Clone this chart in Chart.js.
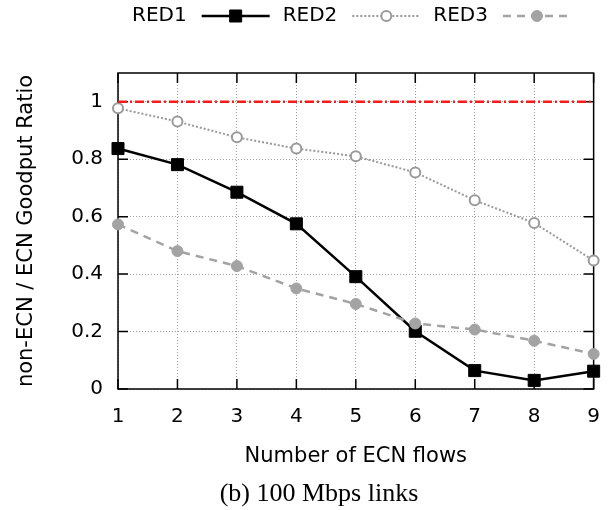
<!DOCTYPE html>
<html><head><meta charset="utf-8">
<script src="https://cdn.jsdelivr.net/npm/chart.js@4.4.0/dist/chart.umd.min.js"></script>
<style>
html,body{margin:0;padding:0;background:#fff;}
#wrap{position:relative;width:616px;height:510px;overflow:hidden;}
#c{position:absolute;left:0;top:0;}
#cap{position:absolute;left:11px;width:616px;top:480px;text-align:center;font-family:"Liberation Serif",serif;font-size:26px;line-height:26px;color:#000;white-space:pre;}
</style></head><body>
<div id="wrap"><canvas id="c" width="616" height="510"></canvas><div id="cap">(b) 100 Mbps links</div></div>
<script>
// ---- data ----
const flows = ['1','2','3','4','5','6','7','8','9'];
const red1 = [0.837, 0.781, 0.685, 0.575, 0.391, 0.201, 0.064, 0.030, 0.062];
const red2 = [0.977, 0.931, 0.876, 0.837, 0.810, 0.754, 0.657, 0.578, 0.447];
const red3 = [0.573, 0.480, 0.428, 0.350, 0.296, 0.228, 0.207, 0.168, 0.122];
const parity = [1, 1, 1, 1, 1, 1, 1, 1, 1];
const yTickValues = [0, 0.2, 0.4, 0.6, 0.8, 1];
const seriesNames = ['RED1', 'RED2', 'RED3'];
const xTitle = 'Number of ECN flows';
const yTitle = 'non-ECN / ECN Goodput Ratio';

const FONT = "'DejaVu Sans', sans-serif";

const framePlugin = {
  id: 'frame',
  beforeDatasetsDraw(chart) {
    const {ctx, chartArea: a, scales: {x, y}} = chart;
    ctx.save();
    ctx.strokeStyle = '#000';
    ctx.lineWidth = 1.5;
    ctx.setLineDash([]);
    ctx.beginPath();
    const L = 10;
    x.ticks.forEach((t, i) => {
      const px = x.getPixelForTick(i);
      ctx.moveTo(px, a.bottom); ctx.lineTo(px, a.bottom - L);
      ctx.moveTo(px, a.top); ctx.lineTo(px, a.top + L);
    });
    y.ticks.forEach((t) => {
      const py = y.getPixelForValue(t.value);
      ctx.moveTo(a.left, py); ctx.lineTo(a.left + L, py);
      ctx.moveTo(a.right, py); ctx.lineTo(a.right - L, py);
    });
    ctx.stroke();
    ctx.strokeRect(a.left, a.top, a.right - a.left, a.bottom - a.top);
    ctx.restore();
  }
};

const legendPlugin = {
  id: 'gnuLegend',
  afterDraw(chart) {
    const ctx = chart.ctx;
    ctx.save();
    ctx.font = '20px ' + FONT;
    ctx.textBaseline = 'middle';
    ctx.textAlign = 'left';
    let xPos = 132;
    const yPos = 16;
    seriesNames.forEach((name) => {
      const ds = chart.data.datasets.find(d => d.label === name);
      if (!ds) return;
      ctx.fillStyle = '#000';
      ctx.fillText(ds.label, xPos, yPos);
      xPos += ctx.measureText(ds.label).width + 15;
      const len = 68;
      ctx.strokeStyle = ds.borderColor;
      ctx.lineWidth = ds.borderWidth;
      ctx.setLineDash(ds.borderDash || []);
      ctx.beginPath();
      ctx.moveTo(xPos, yPos); ctx.lineTo(xPos + len, yPos);
      ctx.stroke();
      ctx.setLineDash([]);
      ctx.fillStyle = ds.pointBackgroundColor;
      ctx.strokeStyle = ds.pointBorderColor;
      ctx.lineWidth = ds.pointBorderWidth;
      Chart.helpers.drawPoint(ctx, {pointStyle: ds.pointStyle, radius: ds.pointRadius, rotation: 0, borderWidth: ds.pointBorderWidth}, xPos + len / 2, yPos);
      xPos += len + 13;
    });
    ctx.restore();
  }
};

new Chart(document.getElementById('c'), {
  type: 'line',
  data: {
    labels: flows,
    datasets: [
      { label: 'parity', data: parity, borderColor: '#ff1a1a', borderWidth: 2.5, borderDash: [9, 3, 2, 3],
        pointRadius: 0, order: 0, clip: false },
      { label: seriesNames[2], data: red3, borderColor: '#a3a3a3', borderWidth: 2.5, borderDash: [8, 6],
        pointStyle: 'circle', pointRadius: 5.5, pointBackgroundColor: '#a3a3a3', pointBorderColor: '#a3a3a3', pointBorderWidth: 1,
        order: 1, clip: false },
      { label: seriesNames[1], data: red2, borderColor: '#9a9a9a', borderWidth: 2, borderDash: [2, 2],
        pointStyle: 'circle', pointRadius: 5, pointBackgroundColor: '#ffffff', pointBorderColor: '#9a9a9a', pointBorderWidth: 2,
        order: 2, clip: false },
      { label: seriesNames[0], data: red1, borderColor: '#000000', borderWidth: 2.5,
        pointStyle: 'rect', pointRadius: 8.5, pointBackgroundColor: '#000000', pointBorderColor: '#000000', pointBorderWidth: 1,
        order: 3, clip: false }
    ]
  },
  options: {
    responsive: false,
    animation: false,
    devicePixelRatio: 1,
    layout: { padding: { top: 73, right: 18, left: 0, bottom: 0 } },
    plugins: { legend: { display: false }, tooltip: { enabled: false } },
    elements: { line: { tension: 0 } },
    scales: {
      x: {
        type: 'category',
        offset: false,
        grid: { display: true, drawTicks: false, color: '#a0a0a0', lineWidth: 1 },
        border: { display: false, dash: [1, 2] },
        ticks: { font: { family: FONT, size: 20 }, color: '#000', padding: 16, maxRotation: 0, autoSkip: false },
        title: { display: true, text: xTitle, font: { family: FONT, size: 21 }, color: '#000', padding: { top: 0, bottom: 41 } },
        afterFit(s) { s.height = 121; }
      },
      y: {
        min: 0, max: 1.1,
        grid: { display: true, drawTicks: false, color: '#a0a0a0', lineWidth: 1 },
        border: { display: false, dash: [1, 2] },
        afterBuildTicks(s) { s.ticks = yTickValues.map(v => ({ value: v })); },
        ticks: { font: { family: FONT, size: 20 }, color: '#000', padding: 15,
          callback: (v) => String(Math.round(v * 10) / 10) },
        title: { display: true, text: yTitle, font: { family: FONT, size: 21 }, color: '#000', padding: { top: 14, bottom: 0 } },
        afterFit(s) { s.width = 118; }
      }
    }
  },
  plugins: [framePlugin, legendPlugin]
});
</script>
</body></html>
